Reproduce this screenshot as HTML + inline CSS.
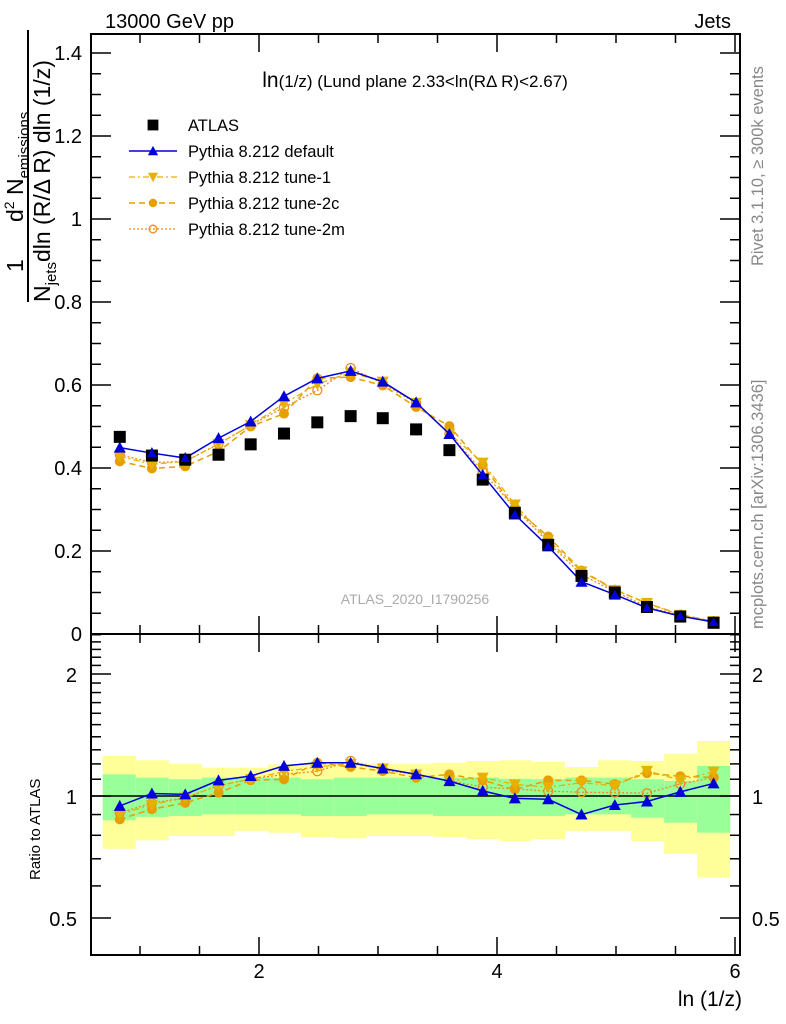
<!DOCTYPE html>
<html><head><meta charset="utf-8"><style>
html,body{margin:0;padding:0;background:#fff;}
svg{display:block;font-family:"Liberation Sans",sans-serif;}
</style></head><body>
<svg id="chart" width="786" height="1024" viewBox="0 0 786 1024" xmlns="http://www.w3.org/2000/svg">
<text x="105" y="28" font-size="20">13000 GeV pp</text>
<text x="731" y="28" font-size="20" text-anchor="end">Jets</text>
<text transform="translate(763,266) rotate(-90)" font-size="16.5" fill="#888">Rivet 3.1.10, ≥ 300k events</text>
<text transform="translate(763,629) rotate(-90)" font-size="16.5" fill="#888">mcplots.cern.ch [arXiv:1306.3436]</text>
<g id="ylabel" transform="rotate(-90)">
  <text x="-272" y="23" font-size="23">1</text>
  <text x="-222" y="23" font-size="23">d<tspan font-size="14" dy="-9">2</tspan><tspan dy="9"> N</tspan><tspan font-size="15" dy="6">emissions</tspan></text>
  <line x1="-302" y1="28" x2="-30" y2="28" stroke="#000" stroke-width="2"/>
  <text x="-302" y="50" font-size="23">N<tspan font-size="15" dy="6">jets</tspan><tspan dy="-6">dln (R/Δ R) dln (1/z)</tspan></text>
</g>
<text transform="translate(40,880) rotate(-90)" font-size="15">Ratio to ATLAS</text>
<text x="742" y="1006" font-size="21" text-anchor="end">ln (1/z)</text>
<text x="415" y="87" font-size="17" text-anchor="middle"><tspan font-size="21">ln</tspan>(1/z) (Lund plane 2.33&lt;ln(RΔ R)&lt;2.67)</text>
<text x="415" y="604" font-size="14" fill="#aaa" text-anchor="middle">ATLAS_2020_I1790256</text>
<g id="bands"></g>
<g id="marks"></g>
<g id="axes"></g>
<g id="legend"></g>
</svg>
<script>
const binLo = 0.687, binW = 0.2775;
const xCenters = [0.83,1.10,1.38,1.66,1.93,2.21,2.49,2.77,3.04,3.32,3.60,3.88,4.15,4.43,4.71,4.99,5.26,5.54,5.82];
const atlas = [0.475,0.43,0.42,0.432,0.457,0.483,0.51,0.525,0.52,0.493,0.443,0.372,0.292,0.215,0.14,0.1,0.065,0.042,0.027];
const pyDefault = [0.449,0.436,0.424,0.472,0.512,0.573,0.616,0.634,0.608,0.558,0.482,0.383,0.288,0.211,0.126,0.095,0.063,0.043,0.029];
const pyTune1 = [0.428,0.409,0.416,0.458,0.503,0.555,0.602,0.63,0.608,0.557,0.483,0.413,0.312,0.226,0.151,0.106,0.075,0.046,0.031];
const pyTune2c = [0.416,0.399,0.404,0.44,0.5,0.531,0.616,0.619,0.599,0.547,0.501,0.407,0.303,0.235,0.153,0.107,0.074,0.047,0.030];
const pyTune2m = [0.432,0.413,0.416,0.458,0.503,0.546,0.587,0.641,0.603,0.557,0.483,0.391,0.304,0.221,0.143,0.102,0.066,0.045,0.030];
const yellowHi = [1.255,1.225,1.202,1.175,1.175,1.197,1.202,1.208,1.202,1.202,1.208,1.22,1.225,1.213,1.179,1.225,1.22,1.272,1.367];
const greenHi = [1.131,1.11,1.10,1.11,1.11,1.11,1.10,1.11,1.11,1.11,1.11,1.11,1.103,1.10,1.11,1.11,1.10,1.089,1.186];
const greenLo = [0.871,0.888,0.893,0.901,0.901,0.901,0.893,0.893,0.901,0.901,0.893,0.893,0.893,0.893,0.901,0.901,0.884,0.859,0.812];
const yellowLo = [0.741,0.777,0.797,0.797,0.82,0.812,0.792,0.786,0.797,0.797,0.792,0.782,0.774,0.782,0.82,0.82,0.774,0.72,0.629];
const xTickLabels = [2,4,6];
const yTickLabels = [0,0.2,0.4,0.6,0.8,1,1.2,1.4];
const rTickLabels = [0.5,1,2];

const L=91,R=740,T=34,M=634,B=955;
const X=v=>259+(v-2)*119;
const Y=v=>634-v*415;
const RY=v=>796-Math.log2(v)*122;
const NS="http://www.w3.org/2000/svg";
function mk(tag,attrs,parent){const e=document.createElementNS(NS,tag);for(const k in attrs)e.setAttribute(k,attrs[k]);parent.appendChild(e);return e;}
const bands=document.getElementById('bands'),marks=document.getElementById('marks'),axes=document.getElementById('axes'),legend=document.getElementById('legend');

yellowHi.forEach((v,i)=>{
  const x0=X(binLo+i*binW),x1=X(binLo+(i+1)*binW);
  const y=mk('rect',{x:x0,y:RY(v),width:x1-x0,height:RY(yellowLo[i])-RY(v),fill:'#ffff99'},bands);
  
  
  const g=mk('rect',{x:x0,y:RY(greenHi[i]),width:x1-x0,height:RY(greenLo[i])-RY(greenHi[i]),fill:'#99ff99'},bands);
  
  
});
const one=mk('line',{x1:L,x2:R,y1:RY(1),y2:RY(1),stroke:'#000','stroke-width':1.5},bands);



function marker(type,x,y,color,parent,s){
  s=s||1;
  if(type==='sq') return mk('rect',{x:x-6*s,y:y-6*s,width:12*s,height:12*s,fill:'#000'},parent);
  if(type==='up') return mk('polygon',{points:`${x},${y-6*s} ${x-6*s},${y+5*s} ${x+6*s},${y+5*s}`,fill:color},parent);
  if(type==='dn') return mk('polygon',{points:`${x},${y+6*s} ${x-6*s},${y-5*s} ${x+6*s},${y-5*s}`,fill:color},parent);
  if(type==='fc') return mk('circle',{cx:x,cy:y,r:5*s,fill:color},parent);
  return mk('circle',{cx:x,cy:y,r:4.5*s,fill:'none',stroke:color,'stroke-width':1.3},parent);
}
const series=[
  {name:'Pythia 8.212 default',key:'default',vals:pyDefault,color:'#0000dd',m:'up',dash:'',w:1.5},
  {name:'Pythia 8.212 tune-1',key:'tune-1',vals:pyTune1,color:'#e8b000',m:'dn',dash:'6,3,2,3',w:1.3},
  {name:'Pythia 8.212 tune-2c',key:'tune-2c',vals:pyTune2c,color:'#e69f00',m:'fc',dash:'6,4',w:1.5},
  {name:'Pythia 8.212 tune-2m',key:'tune-2m',vals:pyTune2m,color:'#ee8a20',m:'oc',dash:'2,2',w:1.3},
];
[...series].reverse().forEach(s=>{
  const pts=s.vals.map((v,i)=>X(xCenters[i])+','+Y(v)).join(' ');
  const pl=mk('polyline',{points:pts,fill:'none',stroke:s.color,'stroke-width':s.w,'stroke-dasharray':s.dash},marks);
  
  
  const rpts=s.vals.map((v,i)=>X(xCenters[i])+','+RY(v/atlas[i])).join(' ');
  const rl=mk('polyline',{points:rpts,fill:'none',stroke:s.color,'stroke-width':s.w,'stroke-dasharray':s.dash},marks);
  
  
  s.vals.forEach((v,i)=>{
    const p=marker(s.m,X(xCenters[i]),Y(v),s.color,marks);
    
    
    const rp=marker(s.m,X(xCenters[i]),RY(v/atlas[i]),s.color,marks);
    
    
  });
});
atlas.forEach((v,i)=>{
  const p=marker('sq',X(xCenters[i]),Y(v),'#000',marks);
  
  
});
series.slice(0,1).forEach(s=>{
  s.vals.forEach((v,i)=>{
    const p=marker(s.m,X(xCenters[i]),Y(v),s.color,marks,0.8);
    
    
  });
});

const f1=mk('rect',{x:L,y:T,width:R-L,height:M-T,fill:'none',stroke:'#000','stroke-width':2},axes);


const f2=mk('rect',{x:L,y:M,width:R-L,height:B-M,fill:'none',stroke:'#000','stroke-width':2},axes);


for(let v=1;v<=6.001;v+=0.5){
  const x=X(v);if(x<L||x>R)continue;
  const major=Math.abs(v-Math.round(v/2)*2)<1e-6;
  const len=major?18:9;
  [[T,1],[M,-1],[M,1],[B,-1]].forEach(([y0,d])=>{
    const t=mk('line',{x1:x,x2:x,y1:y0,y2:y0+d*len,stroke:'#000','stroke-width':1.5},axes);
    
    
  });
}
xTickLabels.forEach(v=>{
  const t=mk('text',{x:X(v),y:978,'font-size':20,'text-anchor':'middle'},axes);t.textContent=v;
  
  
});
for(let k=0;k<=28;k++){
  const v=k*0.05,y=Y(v);if(y<T)continue;
  const len=(k%4===0)?20:10;
  [[L,1],[R,-1]].forEach(([x0,d])=>{
    const t=mk('line',{x1:x0,x2:x0+d*len,y1:y,y2:y,stroke:'#000','stroke-width':1.5},axes);
    
    
  });
}
yTickLabels.forEach(v=>{
  const t=mk('text',{x:82,y:Y(v)+7,'font-size':20,'text-anchor':'end'},axes);t.textContent=v;
  
  
});
const rminor=[0.4,0.5,0.6,0.7,0.8,0.9,1,1.1,1.2,1.3,1.4,1.5,1.6,1.7,1.8,1.9,2,2.1,2.2,2.3,2.4,2.5];
rminor.forEach(v=>{
  const y=RY(v);if(y<M||y>B)return;
  const major=rTickLabels.includes(v);
  const len=major?20:10;
  [[L,1],[R,-1]].forEach(([x0,d])=>{
    const t=mk('line',{x1:x0,x2:x0+d*len,y1:y,y2:y,stroke:'#000','stroke-width':1.5},axes);
    
    
  });
});
rTickLabels.forEach(v=>{
  const t=mk('text',{x:77,y:RY(v)+8,'font-size':20,'text-anchor':'end'},axes);t.textContent=v;
  
  
  const t2=mk('text',{x:752,y:RY(v)+8,'font-size':20},axes);t2.textContent=v;
  
  
});
const lrows=[{name:'ATLAS',m:'sq',color:'#000',dash:null,w:0}].concat(series);
lrows.forEach((s,i)=>{
  const y=125+i*26;
  const g=mk('g',{},legend);
  
  
  if(s.dash!==null) mk('line',{x1:129,x2:177,y1:y,y2:y,stroke:s.color,'stroke-width':s.w,'stroke-dasharray':s.dash},g);
  marker(s.m,153,y,s.color,g,s.m==='sq'?0.9:0.85);
  const t=mk('text',{x:188,y:y+6,'font-size':16.5},g);t.textContent=s.name;
});
</script>
</body></html>
